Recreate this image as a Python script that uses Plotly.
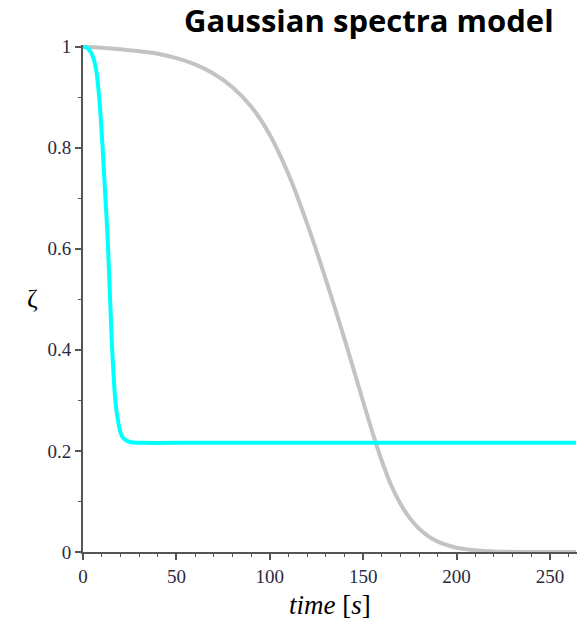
import plotly.graph_objects as go

# Gaussian spectra model curves
t_gray = [0, 10, 20, 30, 40, 50, 60, 70, 80, 90, 100, 110, 120, 130, 140, 150, 155, 160, 165, 170,
          175, 180, 185, 190, 195, 200, 205, 210, 220, 235, 264]
zeta_gray = [1.0, 0.9975, 0.9945, 0.9905, 0.9856, 0.977, 0.9645, 0.946, 0.9195, 0.8815, 0.8255,
             0.7475, 0.6495, 0.5395, 0.4215, 0.2975, 0.2365, 0.18, 0.132, 0.095, 0.067, 0.046,
             0.031, 0.0205, 0.0135, 0.0085, 0.0053, 0.0034, 0.0012, 0.0002, 0.0]

t_cyan = [0, 2, 4, 5.5, 7, 8.7, 10.5, 12, 13, 14.3, 15.5, 16.3, 17.3, 18.5, 19.8, 21, 23.4, 26, 30,
          60, 120, 200, 264]
zeta_cyan = [1.0, 0.998, 0.99, 0.978, 0.955, 0.898, 0.80, 0.70, 0.636, 0.52, 0.41, 0.355, 0.30,
             0.265, 0.24, 0.228, 0.220, 0.217, 0.216, 0.216, 0.216, 0.216, 0.216]

x_ticks = [0, 50, 100, 150, 200, 250]
x_tick_labels = ["0", "50", "100", "150", "200", "250"]
y_ticks = [0, 0.2, 0.4, 0.6, 0.8, 1]
y_tick_labels = ["0", "0.2", "0.4", "0.6", "0.8", "1"]

SERIF = "Liberation Serif"

fig = go.Figure()
fig.add_trace(go.Scatter(x=t_gray, y=zeta_gray, mode="lines",
                         line=dict(color="#c3c3c3", width=4, shape="spline", smoothing=1.0),
                         showlegend=False))
fig.add_trace(go.Scatter(x=t_cyan, y=zeta_cyan, mode="lines",
                         line=dict(color="#00ffff", width=4, shape="spline", smoothing=0.6),
                         showlegend=False))

tick_font = dict(family=SERIF, size=19, color="#2a2a40")
fig.update_layout(
    template="none",
    width=587, height=625,
    font=dict(family=SERIF, size=19, color="#2a2a40"),
    margin=dict(l=83, r=10, t=45, b=73),
    paper_bgcolor="white", plot_bgcolor="white",
    xaxis=dict(range=[0, 264.5], tickmode="array", tickvals=x_ticks, ticktext=x_tick_labels,
               ticks="outside", ticklen=6, tickwidth=1.5, tickcolor="#555",
               showline=True, linecolor="#555", linewidth=2, showgrid=False, zeroline=False,
               tickfont=tick_font,
               minor=dict(dtick=10, ticks="outside", ticklen=3, tickwidth=1.2,
                          tickcolor="#555", showgrid=False)),
    yaxis=dict(range=[0, 1.003], tickmode="array", tickvals=y_ticks, ticktext=y_tick_labels,
               ticks="outside", ticklen=6, tickwidth=1.5, tickcolor="#555",
               showline=True, linecolor="#555", linewidth=2, showgrid=False, zeroline=False,
               tickfont=tick_font,
               minor=dict(dtick=0.1, ticks="outside", ticklen=3, tickwidth=1.2,
                          tickcolor="#555", showgrid=False)),
    annotations=[
        dict(text="<b>Gaussian spectra model</b>", xref="paper", yref="paper",
             x=1.0, y=1.0, xanchor="right", yanchor="bottom", yshift=2, xshift=-21,
             showarrow=False, font=dict(family="Open Sans", size=31, color="black")),
        dict(text="ζ", xref="paper", yref="paper", x=0, y=0.5, xanchor="center",
             yanchor="middle", xshift=-51, showarrow=False,
             font=dict(family=SERIF, size=26, color="black")),
        dict(text="<i>time</i> [<i>s</i>]", xref="paper", yref="paper", x=0.5, y=0,
             xanchor="center", yanchor="top", yshift=-36, showarrow=False,
             font=dict(family=SERIF, size=27, color="black")),
    ],
)

fig.write_html("out.html")
